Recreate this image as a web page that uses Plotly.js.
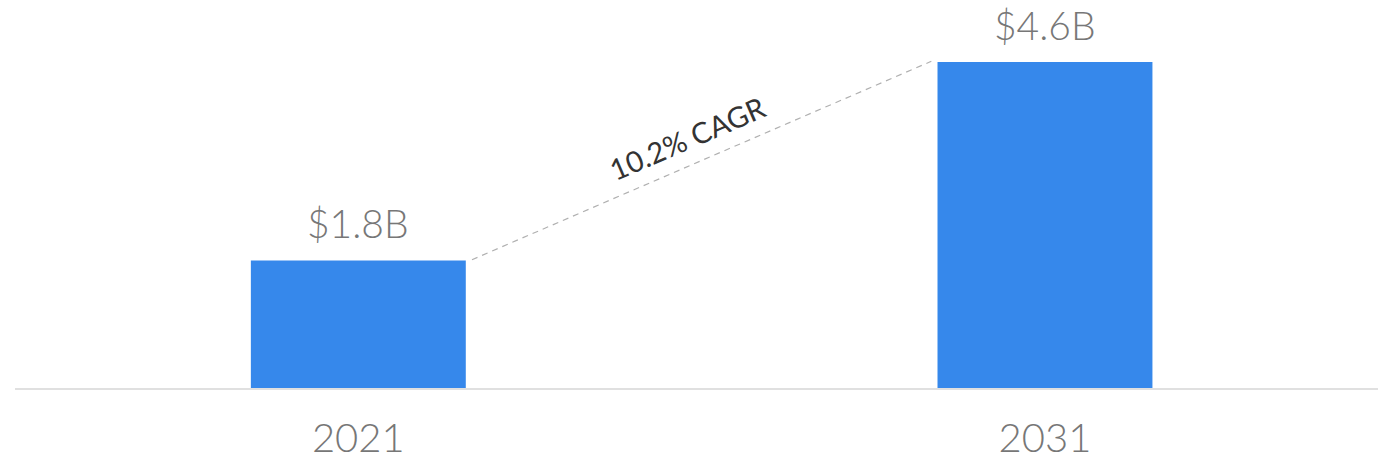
<!DOCTYPE html>
<html>
<head>
<meta charset="utf-8">
<script src="https://cdn.plot.ly/plotly-3.0.1.min.js"></script>
<style>html,body{margin:0;padding:0;background:#fff;}#chart{width:1378px;height:460px;}</style>
</head>
<body>
<div id="chart"></div>
<script>
const years = ['2021', '2031'];
const values = [1.8, 4.6];
const valueLabels = ['$1.8B', '$4.6B'];
const cagrLabel = '10.2% CAGR';

const barWidth = 0.313;
const gap = 0.009;

const trace = {
  type: 'bar',
  x: years,
  y: values,
  width: barWidth,
  marker: {color: '#3688EB'},
  hoverinfo: 'skip'
};

const annotations = years.map((yr, i) => ({
  x: i, y: values[i], xref: 'x', yref: 'y',
  text: valueLabels[i], showarrow: false,
  yanchor: 'bottom', yshift: 12,
  font: {family: 'Lato', size: 39, color: '#777777', weight: 300}
}));

annotations.push({
  x: 0.48, y: (values[0] + values[1]) / 2 + 0.34, xref: 'x', yref: 'y',
  text: cagrLabel, showarrow: false, textangle: -23.3,
  font: {family: 'Lato', size: 29, color: '#333333'}
});

const layout = {
  width: 1378, height: 460,
  margin: {l: 15, r: 0, t: 0, b: 72},
  paper_bgcolor: '#ffffff', plot_bgcolor: '#ffffff',
  showlegend: false,
  xaxis: {
    type: 'category',
    range: [-0.5, 1.485],
    showline: true, linecolor: '#e0e0e0', linewidth: 2,
    showgrid: false, zeroline: false, ticks: '',
    tickfont: {family: 'Lato', size: 40, color: '#777777', weight: 300},
    ticklabelstandoff: 14
  },
  yaxis: {
    range: [0, 5.475],
    visible: false, showgrid: false, zeroline: false
  },
  shapes: [{
    type: 'line', xref: 'x', yref: 'y',
    x0: barWidth / 2 + gap, y0: values[0] + 0.01,
    x1: 1 - barWidth / 2 - gap, y1: values[1] + 0.01,
    line: {color: '#b0b0b0', width: 1.2, dash: '6px,5px'}
  }],
  annotations: annotations
};

Plotly.newPlot('chart', [trace], layout, {displayModeBar: false, staticPlot: true});
</script>
</body>
</html>
